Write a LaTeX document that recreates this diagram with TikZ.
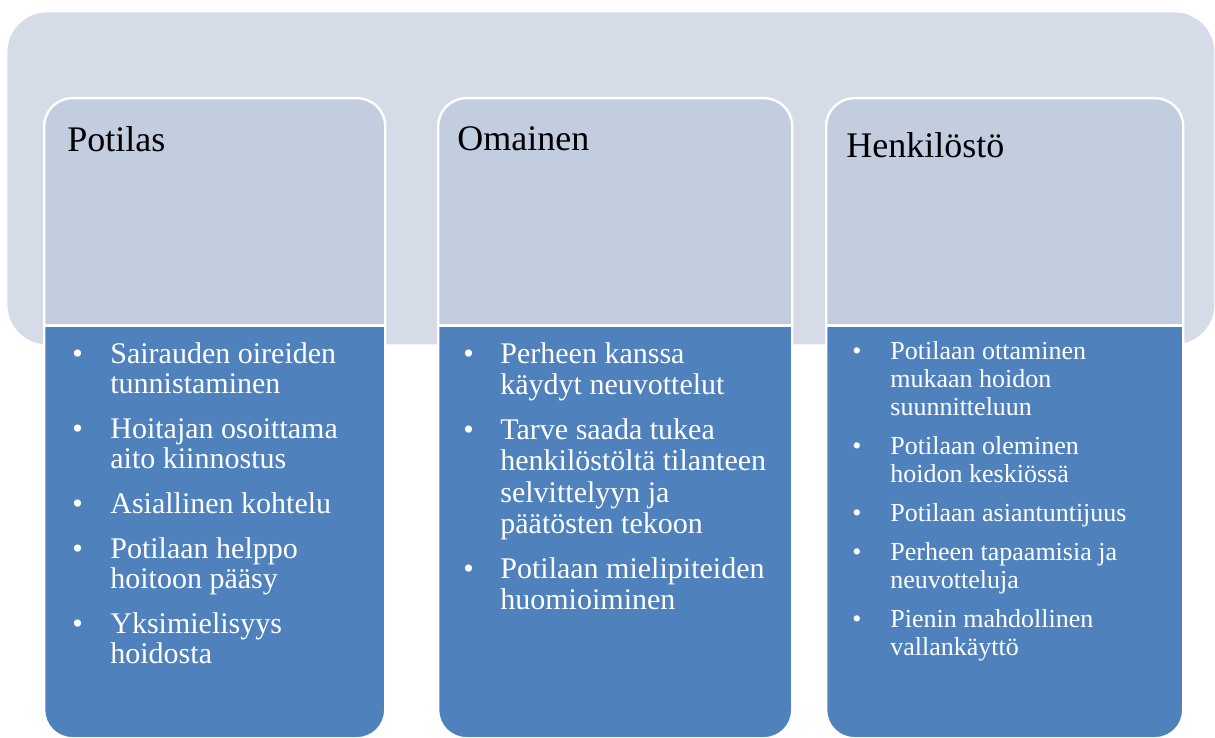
\documentclass[tikz,border=0pt]{standalone}
\usepackage{fontspec}
\setmainfont{Liberation Serif}
\usetikzlibrary{positioning}

\definecolor{bandgray}{HTML}{D5DCE8}
\definecolor{headblue}{HTML}{C3CDE0}
\definecolor{bodyblue}{HTML}{4F81BD}

\begin{document}
\begin{tikzpicture}[x=0.5pt, y=-0.5pt]
    \tikzstyle{band} = [rectangle, fill=bandgray, rounded corners=20pt, minimum width=603.5pt, minimum height=166pt, anchor=north west, inner sep=0pt]
    \tikzstyle{card} = [rectangle, fill=bodyblue, draw=white, line width=1.2pt, rounded corners=14pt, minimum height=320pt, anchor=north west, inner sep=0pt,
        path picture={
            \fill[headblue, sharp corners] (path picture bounding box.north west) rectangle ([yshift=-113.5pt]path picture bounding box.north east);
            \draw[white, sharp corners, line width=1.5pt] ([yshift=-113.5pt]path picture bounding box.north west) -- ([yshift=-113.5pt]path picture bounding box.north east);
        }]
    \tikzstyle{title} = [anchor=base west, inner sep=0pt, font=\fontsize{18}{18}\selectfont, text=black]
    \tikzstyle{items} = [anchor=base west, inner sep=0pt, text=white]

    \useasboundingbox (0,0) rectangle (1215,738);

    % Background band
    \node [band] (band) at (7,12) {};

    % Cards
    \node [card, minimum width=170.5pt] (potilas) at (43,97) {};
    \node [card, minimum width=177pt] (omainen) at (437,97) {};
    \node [card, minimum width=178.5pt] (henkilosto) at (825,97) {};

    % Titles
    \node [title] (potilasotsikko) at (67,152) {Potilas};
    \node [title] (omainenotsikko) at (457,150) {Omainen};
    \node [title] (henkilostootsikko) at (846,157) {Henkilöstö};

    % Lists
    \node [items, font=\fontsize{15}{15}\selectfont] (potilaslista) at (72,363) {%
        \begin{tabular}[t]{@{}p{19pt}@{}l@{}}
        \textbullet & Sairauden oireiden\\
                    & tunnistaminen\\[7.5pt]
        \textbullet & Hoitajan osoittama\\
                    & aito kiinnostus\\[7.5pt]
        \textbullet & Asiallinen kohtelu\\[7.5pt]
        \textbullet & Potilaan helppo\\
                    & hoitoon pääsy\\[7.5pt]
        \textbullet & Yksimielisyys\\
                    & hoidosta
        \end{tabular}};
    \node [items, font=\fontsize{15}{15.75}\selectfont] (omainenlista) at (463,363) {%
        \begin{tabular}[t]{@{}p{18.5pt}@{}l@{}}
        \textbullet & Perheen kanssa\\
                    & käydyt neuvottelut\\[6.5pt]
        \textbullet & Tarve saada tukea\\
                    & henkilöstöltä tilanteen\\
                    & selvittelyyn ja\\
                    & päätösten tekoon\\[6.5pt]
        \textbullet & Potilaan mielipiteiden\\
                    & huomioiminen
        \end{tabular}};
    \node [items, font=\fontsize{13}{14}\selectfont] (henkilostolista) at (852,359) {%
        \begin{tabular}[t]{@{}p{19pt}@{}l@{}}
        \textbullet & Potilaan ottaminen\\
                    & mukaan hoidon\\
                    & suunnitteluun\\[5.5pt]
        \textbullet & Potilaan oleminen\\
                    & hoidon keskiössä\\[5.5pt]
        \textbullet & Potilaan asiantuntijuus\\[5.5pt]
        \textbullet & Perheen tapaamisia ja\\
                    & neuvotteluja\\[5.5pt]
        \textbullet & Pienin mahdollinen\\
                    & vallankäyttö
        \end{tabular}};
\end{tikzpicture}
\end{document}
